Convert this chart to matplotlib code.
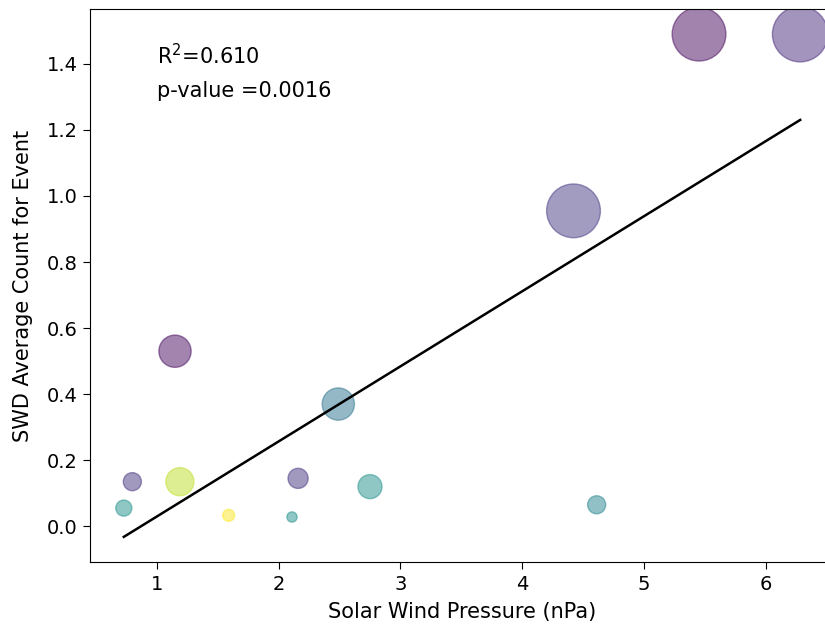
import numpy as np
import matplotlib
matplotlib.use("Agg")
import matplotlib.pyplot as plt

# solar wind pressure (nPa) vs SWD average count per event
pressure = [0.73, 0.80, 1.15, 1.19, 1.59, 2.11, 2.16, 2.49, 2.75, 4.61, 4.42, 5.45, 6.28]
swd_count = [0.055, 0.135, 0.53, 0.135, 0.033, 0.028, 0.145, 0.37, 0.12, 0.065, 0.955, 1.49, 1.49]
sizes = [135, 170, 540, 410, 75, 55, 210, 540, 300, 170, 1500, 1500, 1600]
color_vals = [0.5, 0.15, 0.03, 0.9, 1.0, 0.5, 0.15, 0.38, 0.5, 0.45, 0.17, 0.02, 0.12]

r2_text = "R$^2$=0.610"
p_text = "p-value =0.0016"

x = np.array(pressure)
y = np.array(swd_count)
slope, intercept = np.polyfit(x, y, 1)

fig = plt.figure(figsize=(8.25, 6.29), dpi=100)
ax = fig.add_axes([90/825, 1 - 562/629, 744/825, 553/629])

ax.scatter(x, y, s=sizes, c=color_vals, cmap='viridis', vmin=0, vmax=1, alpha=0.5)
xs = np.array([x.min(), x.max()])
ax.plot(xs, slope*xs + intercept, color='black', lw=1.8)

ax.text(1, 1.4, r2_text, fontsize=15)
ax.text(1, 1.3, p_text, fontsize=15)

ax.set_xlabel('Solar Wind Pressure (nPa)', fontsize=15, labelpad=6)
ax.set_ylabel('SWD Average Count for Event', fontsize=15, labelpad=10)
ax.tick_params(labelsize=14, length=5, pad=4)

fig.savefig('out.png', dpi=100)
